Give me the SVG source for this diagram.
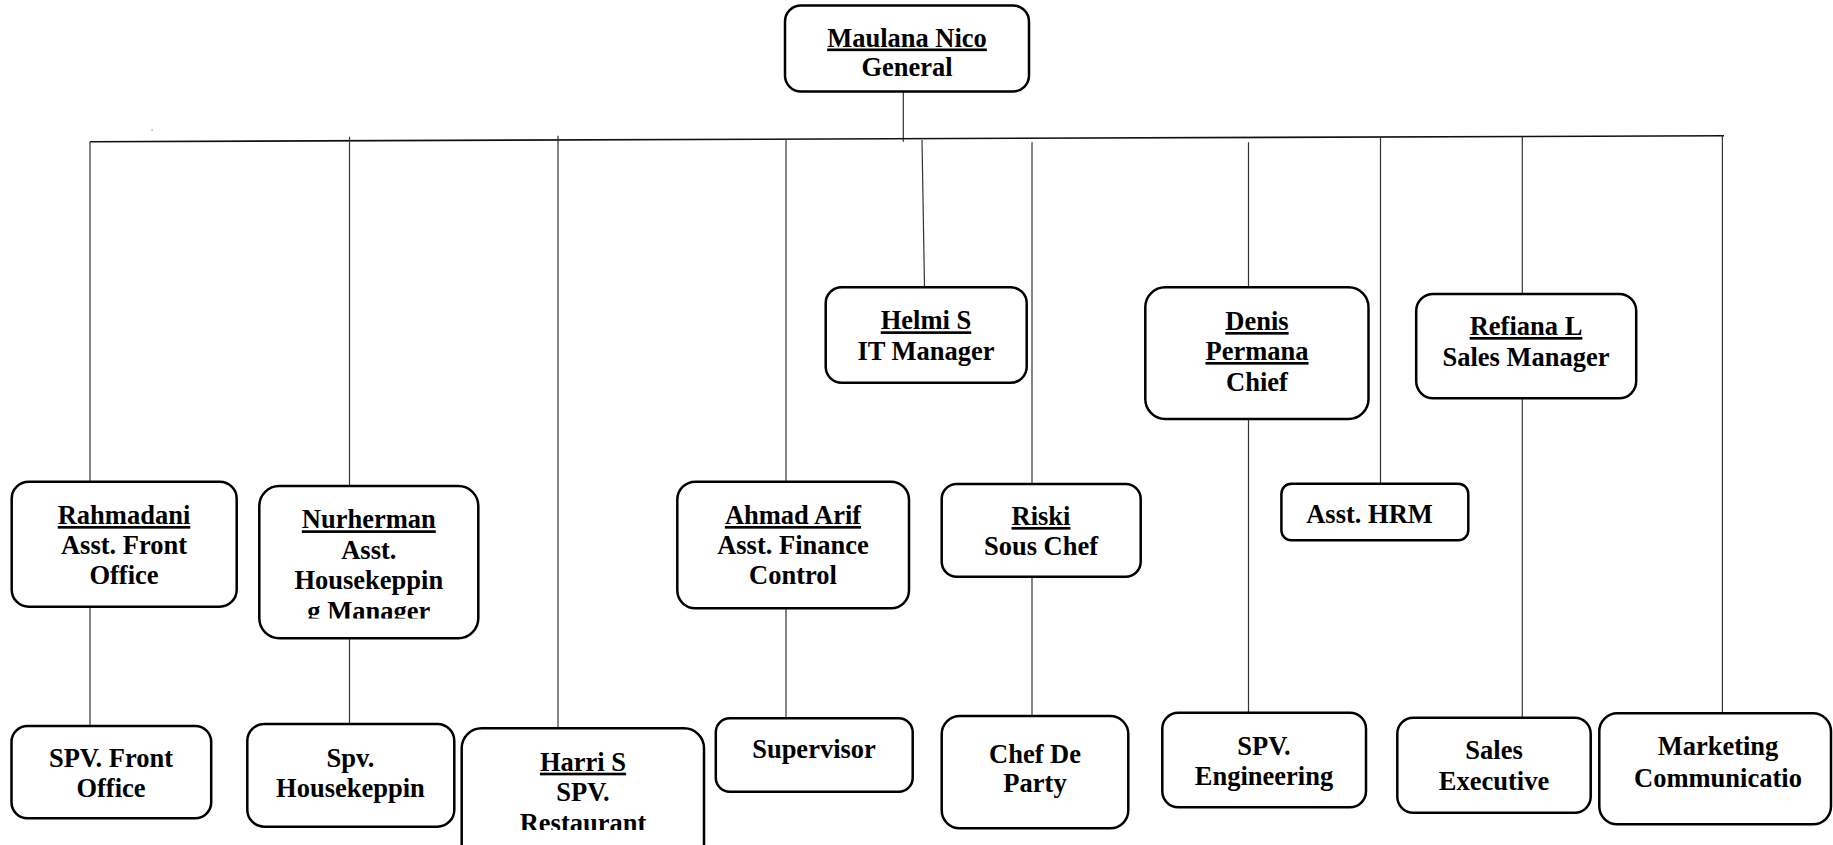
<svg xmlns="http://www.w3.org/2000/svg" width="1833" height="845" viewBox="0 0 1833 845">
  <style>
    .box { fill: #ffffff; stroke: #000000; stroke-width: 2.5; }
    .t { font-family: "Liberation Serif", "Times New Roman", serif; font-weight: bold; font-size: 26.5px; fill: #000000; text-anchor: middle; }
    .u { text-decoration: underline; }
    .bus { stroke: #111111; stroke-width: 1.6; fill: none; }
    .drop { stroke: #333333; stroke-width: 1.2; fill: none; }
  </style>
  <defs>
    <clipPath id="clip-nurherman"><rect x="259" y="486" width="220" height="132.5"/></clipPath>
    <clipPath id="clip-harri"><rect x="461" y="728" width="244" height="102"/></clipPath>
  </defs>
  <rect width="1833" height="845" fill="#ffffff"/>

  <!-- connectors -->
  <g id="connectors">
    <line class="drop" x1="903.3" y1="91.7" x2="903.3" y2="141.7"/>
    <line class="bus" x1="90" y1="141.7" x2="1724" y2="135.7"/>
    <line class="drop" x1="90" y1="141.7" x2="90" y2="726"/>
    <line class="drop" x1="349.5" y1="136.7" x2="349.5" y2="724"/>
    <line class="drop" x1="558" y1="135.7" x2="558" y2="728"/>
    <line class="drop" x1="786" y1="140" x2="786" y2="718"/>
    <line class="drop" x1="922" y1="140" x2="924.5" y2="287.3"/>
    <line class="drop" x1="1032" y1="142.3" x2="1032" y2="716"/>
    <line class="drop" x1="1248.5" y1="142.3" x2="1248.5" y2="712.7"/>
    <line class="drop" x1="1380.5" y1="136.7" x2="1380.5" y2="483.7"/>
    <line class="drop" x1="1522.3" y1="136.7" x2="1522.3" y2="717.7"/>
    <line class="drop" x1="1722.4" y1="135" x2="1722.4" y2="713.3"/>
  </g>
  <rect x="151.5" y="129" width="1.2" height="2" fill="#8ab4e8"/>

  <g id="node-maulana">
    <rect class="box" x="785" y="5.5" width="244" height="86" rx="16"/>
    <text class="t u" x="907" y="46.5">Maulana Nico</text>
    <text class="t" x="907" y="76">General</text>
  </g>

  <g id="node-rahmadani">
    <rect class="box" x="11.7" y="481.7" width="225" height="125" rx="17"/>
    <text class="t u" x="124" y="524">Rahmadani</text>
    <text class="t" x="124" y="554">Asst. Front</text>
    <text class="t" x="124" y="584">Office</text>
  </g>

  <g id="node-nurherman">
    <rect class="box" x="259.3" y="486" width="219" height="152.3" rx="20"/>
    <g clip-path="url(#clip-nurherman)">
      <text class="t u" x="368.8" y="528.3">Nurherman</text>
      <text class="t" x="368.8" y="559">Asst.</text>
      <text class="t" x="368.8" y="589.3">Housekeppin</text>
      <text class="t" x="368.8" y="619.5">g Manager</text>
    </g>
  </g>

  <g id="node-ahmad">
    <rect class="box" x="677.3" y="481.7" width="231.7" height="126.6" rx="18"/>
    <text class="t u" x="793" y="524">Ahmad Arif</text>
    <text class="t" x="793" y="554.3">Asst. Finance</text>
    <text class="t" x="793" y="584">Control</text>
  </g>

  <g id="node-helmi">
    <rect class="box" x="825.7" y="287.3" width="201" height="95.4" rx="16"/>
    <text class="t u" x="926" y="329.3">Helmi S</text>
    <text class="t" x="926" y="360">IT Manager</text>
  </g>

  <g id="node-riski">
    <rect class="box" x="941.7" y="484" width="199" height="92.7" rx="15"/>
    <text class="t u" x="1041" y="525">Riski</text>
    <text class="t" x="1041" y="555">Sous Chef</text>
  </g>

  <g id="node-denis">
    <rect class="box" x="1145.3" y="287.3" width="223.2" height="131.7" rx="20"/>
    <text class="t u" x="1257" y="330">Denis</text>
    <text class="t u" x="1257" y="360">Permana</text>
    <text class="t" x="1257" y="390.7">Chief</text>
  </g>

  <g id="node-hrm">
    <rect class="box" x="1281.4" y="483.7" width="186.9" height="56.6" rx="10"/>
    <text class="t" x="1369.5" y="523.3">Asst. HRM</text>
  </g>

  <g id="node-refiana">
    <rect class="box" x="1416.2" y="294" width="220" height="104.3" rx="17"/>
    <text class="t u" x="1526" y="335">Refiana L</text>
    <text class="t" x="1526" y="366">Sales Manager</text>
  </g>

  <g id="node-spv-front">
    <rect class="box" x="11.5" y="726" width="199.7" height="92.3" rx="16"/>
    <text class="t" x="111" y="766.7">SPV. Front</text>
    <text class="t" x="111" y="796.7">Office</text>
  </g>

  <g id="node-spv-housekeeping">
    <rect class="box" x="247.3" y="724" width="207" height="102.7" rx="17"/>
    <text class="t" x="350.5" y="766.5">Spv.</text>
    <text class="t" x="350.5" y="797">Housekeppin</text>
  </g>

  <g id="node-harri">
    <rect class="box" x="461.7" y="728.3" width="242.3" height="140" rx="20"/>
    <g clip-path="url(#clip-harri)">
      <text class="t u" x="583" y="770.7">Harri S</text>
      <text class="t" x="583" y="800.5">SPV.</text>
      <text class="t" x="583" y="832">Restaurant</text>
    </g>
  </g>

  <g id="node-supervisor">
    <rect class="box" x="715.8" y="718.3" width="196.9" height="73.4" rx="14"/>
    <text class="t" x="814" y="757.7">Supervisor</text>
  </g>

  <g id="node-chef-de-party">
    <rect class="box" x="941.7" y="716" width="186.6" height="112.3" rx="18"/>
    <text class="t" x="1035" y="762.7">Chef De</text>
    <text class="t" x="1035" y="792">Party</text>
  </g>

  <g id="node-spv-engineering">
    <rect class="box" x="1162.3" y="712.7" width="203.7" height="94.6" rx="16"/>
    <text class="t" x="1264" y="755">SPV.</text>
    <text class="t" x="1264" y="785">Engineering</text>
  </g>

  <g id="node-sales-executive">
    <rect class="box" x="1397.3" y="717.7" width="193.4" height="95" rx="16"/>
    <text class="t" x="1494" y="759.3">Sales</text>
    <text class="t" x="1494" y="790">Executive</text>
  </g>

  <g id="node-marketing">
    <rect class="box" x="1599.3" y="713.3" width="231.7" height="111" rx="18"/>
    <text class="t" x="1718" y="755">Marketing</text>
    <text class="t" x="1718" y="786.7">Communicatio</text>
  </g>
</svg>
